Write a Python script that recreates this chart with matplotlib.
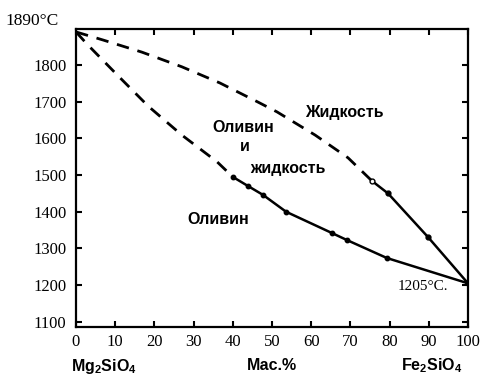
import matplotlib
matplotlib.use("Agg")
import matplotlib.pyplot as plt

plt.rcParams['mathtext.fontset'] = 'custom'
plt.rcParams['mathtext.rm'] = 'Liberation Sans:bold'
plt.rcParams['mathtext.it'] = 'Liberation Sans:bold'
plt.rcParams['mathtext.bf'] = 'Liberation Sans:bold'

# Liquidus (upper curve)
liq_dash_x = [0, 6.9, 16.8, 27, 36.7, 46.4, 51.3, 61, 69.4, 75.5]
liq_dash_T = [1890, 1868, 1835, 1795, 1751, 1699, 1672, 1609, 1547, 1484]
liq_solid_x = [75.5, 79.6, 89.8, 100]
liq_solid_T = [1484, 1450, 1331, 1205]

# Solidus (lower curve)
sol_dash_x = [0, 2.8, 10.5, 18.4, 27, 36, 40]
sol_dash_T = [1890, 1857, 1773, 1688, 1609, 1536, 1495]
sol_solid_x = [40, 43.9, 47.7, 53.6, 65.3, 69.1, 79.3, 100]
sol_solid_T = [1495, 1470, 1446, 1400, 1342, 1323, 1274, 1205]

xticks = [0, 10, 20, 30, 40, 50, 60, 70, 80, 90, 100]
yticks = [1100, 1200, 1300, 1400, 1500, 1600, 1700, 1800]

W, H = 483, 378
fig = plt.figure(figsize=(W / 100, H / 100), dpi=100)
ax = fig.add_axes([76 / W, 1 - 327 / H, (468 - 76) / W, (327 - 29) / H])

serif = 'Liberation Serif'
sans = 'Liberation Sans'

ax.plot(liq_dash_x, liq_dash_T, color='black', lw=2.0, dashes=(4.5, 3.2))
ax.plot(sol_dash_x, sol_dash_T, color='black', lw=2.0, dashes=(4.5, 3.2))
ax.plot(liq_solid_x, liq_solid_T, color='black', lw=1.8, marker='o', ms=3.5,
        markevery=list(range(1, len(liq_solid_x))))
ax.plot(liq_solid_x[:1], liq_solid_T[:1], color='black', ls='none', marker='o',
        ms=3.5, mfc='white')
ax.plot(sol_solid_x, sol_solid_T, color='black', lw=1.8, marker='o', ms=3.2)

ax.set_xlim(0, 100)
ax.set_ylim(1086, 1898)
ax.set_xticks(xticks)
ax.set_yticks(yticks)
ax.set_xticklabels([str(v) for v in xticks], fontfamily=serif, fontsize=12)
ax.set_yticklabels([str(v) for v in yticks], fontfamily=serif, fontsize=12)
ax.tick_params(direction='in', top=True, right=True, length=4, width=1.5,
               pad=5)
ax.tick_params(axis='y', pad=7)
for s in ax.spines.values():
    s.set_linewidth(1.6)


def px(x, y, s, **kw):
    fig.text(x / W, 1 - y / H, s, **kw)


px(305, 112, 'Жидкость', fontfamily=sans, fontweight='bold', fontsize=11.5,
   va='center', ha='left')
px(212, 128, 'Оливин', fontfamily=sans, fontweight='bold', fontsize=11.5,
   va='center', ha='left')
px(240, 147, 'и', fontfamily=sans, fontweight='bold', fontsize=11.5,
   va='center', ha='left')
px(250, 169, 'жидкость', fontfamily=sans, fontweight='bold', fontsize=11.5,
   va='center', ha='left')
px(187, 219, 'Оливин', fontfamily=sans, fontweight='bold', fontsize=11.5,
   va='center', ha='left')
px(398, 286, '1205°C.', fontfamily=serif, fontsize=11, va='center',
   ha='left')
px(5, 21, '1890°C', fontfamily=serif, fontsize=12.5, va='center', ha='left')

px(104, 366, r'Mg$_2$SiO$_4$', fontfamily=sans, fontweight='bold',
   fontsize=11.5, va='center', ha='center')
px(272, 366, 'Мас.%', fontfamily=sans, fontweight='bold', fontsize=11.5,
   va='center', ha='center')
px(432, 366, r'Fe$_2$SiO$_4$', fontfamily=sans, fontweight='bold',
   fontsize=11.5, va='center', ha='center')

fig.savefig('out.png', dpi=100)
